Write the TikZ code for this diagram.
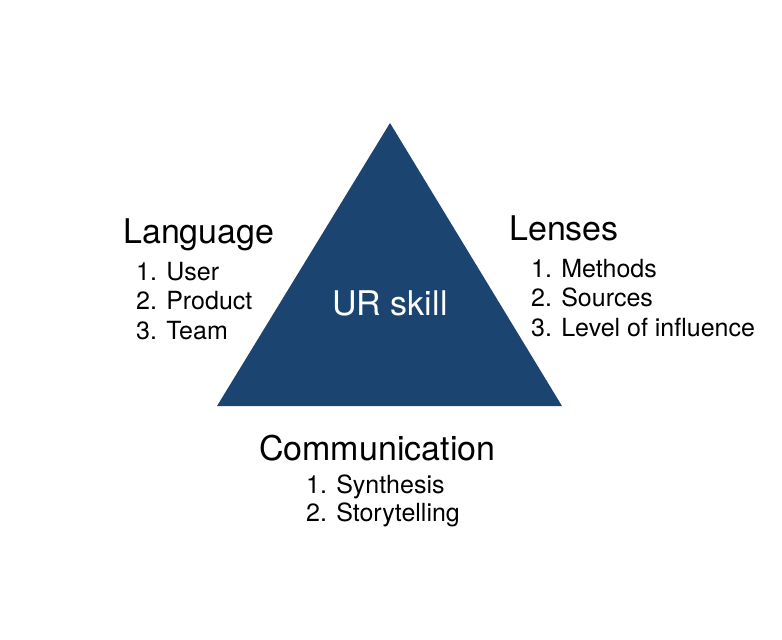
\documentclass[tikz,border=0pt]{standalone}
\usepackage{fontspec}
\setmainfont{TeX Gyre Heros}
\definecolor{tri}{HTML}{1B4570}
\begin{document}
\begin{tikzpicture}[x=1pt,y=-1pt,
  head/.style={inner sep=0pt,anchor=base west,font=\fontsize{34}{40}\selectfont},
  item/.style={inner sep=0pt,anchor=base west,font=\fontsize{25}{30}\selectfont},
  center/.style={inner sep=0pt,anchor=base,text=white,font=\fontsize{34}{40}\selectfont}]
\useasboundingbox (0,0) rectangle (782,640);
\coordinate (apex) at (390,123);
\coordinate (bl) at (217,406);
\coordinate (br) at (562,406);
\fill[tri] (apex) -- (br) -- (bl) -- cycle;
\node[center] (ur) at (390,315) {UR skill};
\node[head] (lang) at (123,243) {Language};
\node[item] (l1) at (136,280) {1. User};
\node[item] (l2) at (136,309) {2. Product};
\node[item] (l3) at (136,339) {3. Team};
\node[head] (lens) at (509,240) {Lenses};
\node[item] (r1) at (531,277) {1. Methods};
\node[item] (r2) at (531,306) {2. Sources};
\node[item] (r3) at (531,336) {3. Level of influence};
\node[head] (comm) at (259,460) {Communication};
\node[item] (c1) at (306,493) {1. Synthesis};
\node[item] (c2) at (306,521) {2. Storytelling};
\end{tikzpicture}
\end{document}
